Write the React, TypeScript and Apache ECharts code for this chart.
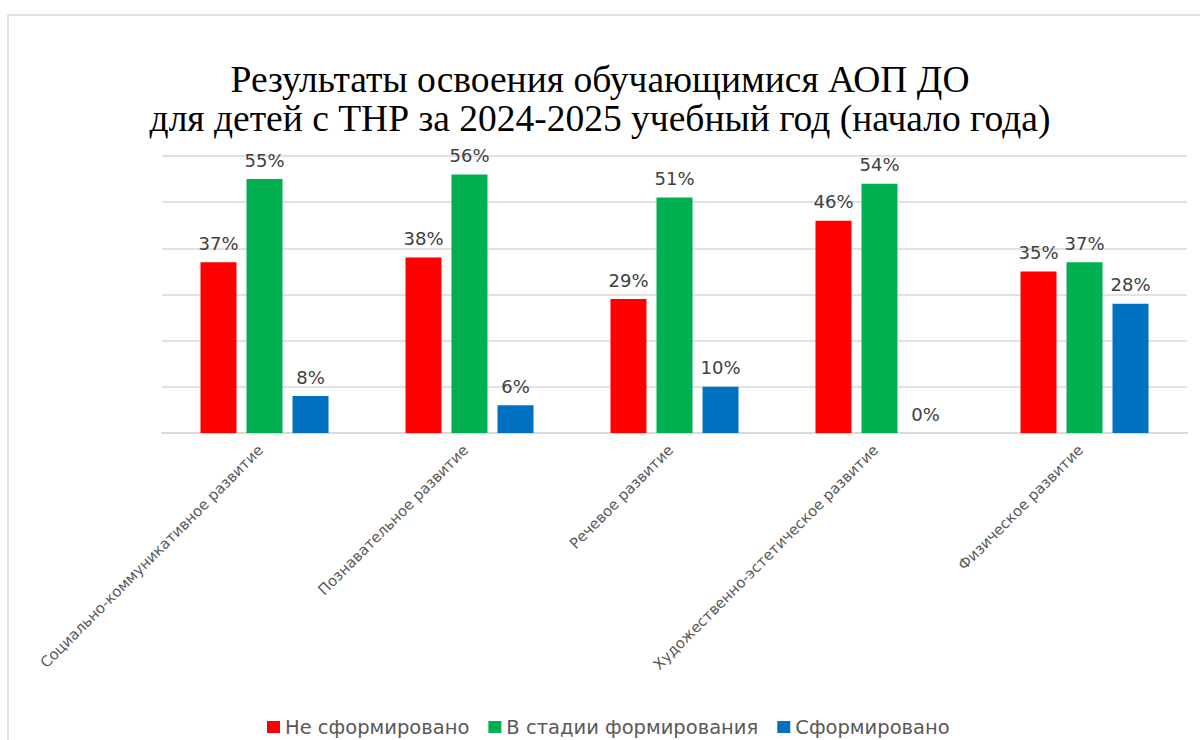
import React, { useEffect, useRef } from "react";
import * as echarts from "echarts";

const categories = [
  "Социально-коммуникативное развитие",
  "Познавательное развитие",
  "Речевое развитие",
  "Художественно-эстетическое развитие",
  "Физическое развитие",
];
const notFormed = [37, 38, 29, 46, 35];
const inProgress = [55, 56, 51, 54, 37];
const formed = [8, 6, 10, 0, 28];
const seriesNames = ["Не сформировано", "В стадии формирования", "Сформировано"];
const colors = ["#FF0000", "#00B050", "#0070C0"];
const titleLines = [
  "Результаты освоения обучающимися АОП ДО",
  "для детей с ТНР за 2024-2025 учебный год (начало года)",
];

export default function App() {
  const ref = useRef<HTMLDivElement>(null);
  useEffect(() => {
    document.body.style.margin = "0";
    if (!ref.current) return;
    const chart = echarts.init(ref.current, undefined, { renderer: "svg" });
    const labelCfg = {
      show: true,
      position: "top",
      distance: 10,
      formatter: "{c}%",
      color: "#404040",
      fontSize: 18,
      fontFamily: "DejaVu Sans",
    };
    const data = [notFormed, inProgress, formed];
    chart.setOption({
      animation: false,
      backgroundColor: "#ffffff",
      title: titleLines.map((t, i) => ({
        text: t,
        left: "center",
        top: 60 + i * 39,
        padding: 0,
        textStyle: {
          fontFamily: "Liberation Serif",
          fontSize: 37.5,
          fontWeight: "normal",
          color: "#000000",
          lineHeight: 39,
        },
      })),
      graphic: [
        {
          type: "rect",
          shape: { x: 8, y: 15, width: 1400, height: 900 },
          style: { fill: "none", stroke: "#d9d9d9", lineWidth: 1.5 },
          silent: true,
          z: -10,
        },
      ],
      legend: {
        top: 712,
        left: 262,
        itemWidth: 13,
        itemHeight: 12,
        itemGap: 19,
        icon: "rect",
        textStyle: { fontFamily: "DejaVu Sans", fontSize: 19.5, color: "#595959" },
        data: seriesNames,
      },
      grid: { left: 162, right: 13, top: 156, bottom: 307 },
      xAxis: {
        type: "category",
        data: categories,
        axisTick: { show: false },
        axisLine: { lineStyle: { color: "#d9d9d9", width: 2 } },
        axisLabel: {
          rotate: 45,
          interval: 0,
          margin: 10,
          padding: [0, 6, 0, 0],
          fontFamily: "DejaVu Sans",
          fontSize: 14.8,
          color: "#595959",
        },
      },
      yAxis: {
        type: "value",
        min: 0,
        max: 60,
        interval: 10,
        axisLabel: { show: false },
        axisLine: { show: false },
        axisTick: { show: false },
        splitLine: { lineStyle: { color: "#d9d9d9", width: 1.5 } },
      },
      series: seriesNames.map((name, i) => ({
        name,
        type: "bar",
        data: data[i],
        barWidth: 36,
        barGap: "27.8%",
        itemStyle: { color: colors[i] },
        label: labelCfg,
      })),
    });
    return () => chart.dispose();
  }, []);
  return <div ref={ref} style={{ width: 1200, height: 740 }} />;
}
